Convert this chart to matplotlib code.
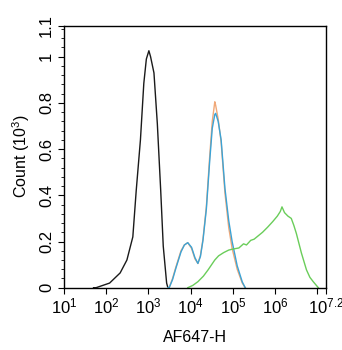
import matplotlib
matplotlib.use("Agg")
import matplotlib.pyplot as plt
import numpy as np

# histogram traces, x as log10(AF647-H), y as count (10^3)
black_logx = [1.70, 1.76, 2.08, 2.33, 2.49, 2.63, 2.71, 2.81, 2.89, 2.95, 3.01,
              3.05, 3.13, 3.21, 3.29, 3.35, 3.43, 3.46]
black_y = [0.0, 0.0, 0.02, 0.064, 0.12, 0.22, 0.42, 0.64, 0.885, 0.99, 1.026,
           1.00, 0.93, 0.71, 0.42, 0.18, 0.02, 0.0]

pos_logx = [3.46, 3.49, 3.57, 3.65, 3.77, 3.85, 3.93, 4.02, 4.10, 4.17, 4.23, 4.29,
            4.37, 4.45, 4.51, 4.57, 4.59, 4.65, 4.72, 4.81, 4.90, 4.98, 5.10,
            5.22, 5.29]
orange_y = [0.0, 0.0, 0.04, 0.09, 0.16, 0.185, 0.195, 0.17, 0.125, 0.105, 0.14, 0.21,
            0.35, 0.57, 0.72, 0.805, 0.79, 0.73, 0.63, 0.41, 0.26, 0.17, 0.08,
            0.02, 0.0]
blue_y = [0.0, 0.0, 0.035, 0.085, 0.155, 0.185, 0.195, 0.175, 0.13, 0.105, 0.135, 0.205,
          0.34, 0.55, 0.69, 0.75, 0.755, 0.72, 0.64, 0.43, 0.29, 0.20, 0.095,
          0.025, 0.0]

green_logx = [3.93, 4.05, 4.17, 4.30, 4.41, 4.57, 4.66, 4.78, 4.90, 5.02, 5.14, 5.25,
              5.32, 5.42, 5.50, 5.60, 5.70, 5.82, 5.94, 6.05, 6.12, 6.16, 6.22, 6.30,
              6.38, 6.44, 6.50, 6.62, 6.74, 6.82, 6.90, 7.02]
green_y = [0.0, 0.01, 0.026, 0.05, 0.077, 0.12, 0.138, 0.152, 0.163, 0.168, 0.172, 0.19,
           0.185, 0.205, 0.21, 0.225, 0.24, 0.262, 0.286, 0.31, 0.33, 0.35, 0.325, 0.31,
           0.30, 0.27, 0.235, 0.15, 0.077, 0.045, 0.026, 0.0]

xtick_pos = [1, 2, 3, 4, 5, 6, 7, 7.2]
xtick_lbl = ["$10^{1}$", "$10^{2}$", "$10^{3}$", "$10^{4}$", "$10^{5}$", "$10^{6}$", "",
             "$10^{7.2}$"]
ytop = 1.135
ytick_pos = [0, 0.2, 0.4, 0.6, 0.8, 1.0, ytop]
ytick_lbl = ["0", "0.2", "0.4", "0.6", "0.8", "1", "1.1"]

plt.rcParams["font.family"] = ["Liberation Sans", "DejaVu Sans"]
plt.rcParams["mathtext.fontset"] = "custom"
plt.rcParams["mathtext.rm"] = "Liberation Sans"
plt.rcParams["mathtext.it"] = "Liberation Sans"

fig = plt.figure(figsize=(3.42, 3.5), dpi=100)
ax = fig.add_axes([0.187, 0.178, 0.766, 0.749])

ax.plot(10 ** np.array(black_logx), black_y, color="#1a1a1a", lw=1.0)
ax.plot(10 ** np.array(pos_logx), orange_y, color="#f0a878", lw=1.0)
ax.plot(10 ** np.array(pos_logx), blue_y, color="#3ba3d6", lw=1.0)
ax.plot(10 ** np.array(green_logx), green_y, color="#6acd5a", lw=1.0)

ax.set_xscale("log")
ax.set_xlim(10 ** 1, 10 ** 7.2)
ax.set_ylim(0, ytop)
ax.set_xticks([10 ** p for p in xtick_pos])
ax.set_xticklabels(xtick_lbl)
ax.xaxis.set_minor_locator(matplotlib.ticker.LogLocator(base=10, subs=np.arange(2, 10)))
ax.xaxis.set_minor_formatter(matplotlib.ticker.NullFormatter())
ax.set_yticks(ytick_pos)
ax.set_yticklabels(ytick_lbl)
ax.set_yticks(np.arange(0.04, 1.13, 0.04), minor=True)

ax.tick_params(which="major", direction="out", length=4, width=0.8, labelsize=12,
               top=False, right=False)
ax.tick_params(which="minor", direction="out", length=2, width=0.6, top=False, right=False)
ax.tick_params(axis="x", pad=2)
ax.tick_params(axis="y", pad=3)
for lbl in ax.get_yticklabels():
    lbl.set_rotation(90)
    lbl.set_va("center")
    lbl.set_ha("right")

for s in ax.spines.values():
    s.set_linewidth(1.0)

ax.set_xlabel("AF647-H", fontsize=11.5, labelpad=10)
ax.set_ylabel("Count ($10^{3}$)", fontsize=11.5, labelpad=5)

fig.savefig("out.png", dpi=100)
